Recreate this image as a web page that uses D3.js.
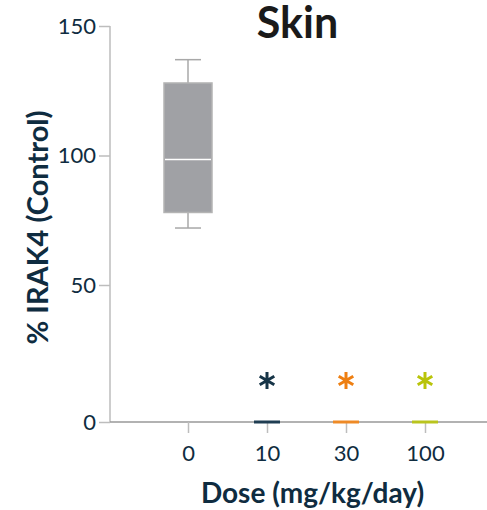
<!DOCTYPE html>
<html>
<head>
<meta charset="utf-8">
<script src="https://cdn.jsdelivr.net/npm/d3@7"></script>
<style>
  body { margin: 0; background: #fff; }
  text { font-family: Lato, "Open Sans", sans-serif; }
</style>
</head>
<body>
<div id="chart"></div>
<script>
// Données
const doses = ["0", "10", "30", "100"];
const whiskerLow = [72, 0, 0, 0];
const q1 = [78, 0, 0, 0];
const median = [98.5, 0, 0, 0];
const q3 = [128, 0, 0, 0];
const whiskerHigh = [137, 0, 0, 0];
const significant = [false, true, true, true];
const yTicks = [0, 50, 100, 150];

const boxFill = ["#a0a1a5", "#1f3d52", "#ee8a26", "#b9c41e"];
const starColor = ["#a0a1a5", "#163447", "#ee7f12", "#b9c40a"];
const ink = "#0f2c40";

const width = 487, height = 510;

const svg = d3.select("#chart").append("svg")
    .attr("width", width)
    .attr("height", height);

// Échelles
const x = d3.scalePoint().domain(doses).range([188, 425]);
const y = d3.scaleLinear().domain([0, 50, 150]).range([422, 285, 26]);

// Axe Y
svg.append("line")
    .attr("x1", 110).attr("x2", 110)
    .attr("y1", y(150)).attr("y2", y(0))
    .attr("stroke", "#bdbdbd").attr("stroke-width", 1.5);

const yAxis = svg.append("g").attr("transform", "translate(110,0)")
    .call(d3.axisLeft(y).tickValues(yTicks).tickSize(11).tickPadding(3));
yAxis.select(".domain").remove();
yAxis.selectAll(".tick line").attr("stroke", "#bdbdbd").attr("stroke-width", 1.5);
yAxis.selectAll(".tick text")
    .attr("fill", ink)
    .style("font-size", "22px")
    .style("font-family", "Lato, sans-serif");

// Axe X
svg.append("line")
    .attr("x1", 110).attr("x2", 487)
    .attr("y1", y(0)).attr("y2", y(0))
    .attr("stroke", "#999").attr("stroke-width", 1.5);

const xAxis = svg.append("g").attr("transform", `translate(0,${y(0)})`)
    .call(d3.axisBottom(x).tickSize(11).tickPadding(12));
xAxis.select(".domain").remove();
xAxis.selectAll(".tick line").attr("stroke", "#bdbdbd").attr("stroke-width", 1.5);
xAxis.selectAll(".tick text")
    .attr("fill", ink)
    .style("font-size", "22px")
    .style("font-family", "Lato, sans-serif");

// Boîtes à moustaches
const boxW = 48, flatW = 26, capW = 26;
doses.forEach((d, i) => {
    const cx = x(d);
    const g = svg.append("g");
    if (q3[i] > q1[i]) {
        g.append("line")
            .attr("x1", cx).attr("x2", cx)
            .attr("y1", y(whiskerHigh[i])).attr("y2", y(q3[i]))
            .attr("stroke", "#a8a8a8").attr("stroke-width", 1.5);
        g.append("line")
            .attr("x1", cx).attr("x2", cx)
            .attr("y1", y(q1[i])).attr("y2", y(whiskerLow[i]))
            .attr("stroke", "#a8a8a8").attr("stroke-width", 1.5);
        [whiskerHigh[i], whiskerLow[i]].forEach(v => {
            g.append("line")
                .attr("x1", cx - capW / 2).attr("x2", cx + capW / 2)
                .attr("y1", y(v)).attr("y2", y(v))
                .attr("stroke", "#a8a8a8").attr("stroke-width", 1.5);
        });
        g.append("rect")
            .attr("x", cx - boxW / 2)
            .attr("y", y(q3[i]))
            .attr("width", boxW)
            .attr("height", y(q1[i]) - y(q3[i]))
            .attr("fill", boxFill[i])
            .attr("stroke", "#b4b4b4").attr("stroke-width", 1.5);
        g.append("line")
            .attr("x1", cx - boxW / 2 + 1).attr("x2", cx + boxW / 2 - 1)
            .attr("y1", y(median[i])).attr("y2", y(median[i]))
            .attr("stroke", "#fff").attr("stroke-width", 1.5);
    } else {
        g.append("line")
            .attr("x1", cx - flatW / 2).attr("x2", cx + flatW / 2)
            .attr("y1", y(median[i])).attr("y2", y(median[i]))
            .attr("stroke", boxFill[i]).attr("stroke-width", 3);
    }
});

// Astérisques de significativité
const star = d3.symbol().type(d3.symbolAsterisk).size(200);
doses.forEach((d, i) => {
    if (!significant[i]) return;
    svg.append("path")
        .attr("d", star)
        .attr("transform", `translate(${x(d)},380.5)`)
        .attr("fill", "none")
        .attr("stroke", starColor[i])
        .attr("stroke-width", 3);
});

// Titres
svg.append("text")
    .attr("x", 297.5).attr("y", 38)
    .attr("text-anchor", "middle")
    .attr("fill", "#1a1a1a")
    .style("font-size", "43px")
    .style("font-weight", "bold")
    .text("Skin");

svg.append("text")
    .attr("x", 312.5).attr("y", 503)
    .attr("text-anchor", "middle")
    .attr("fill", ink)
    .style("font-size", "28px")
    .style("font-weight", "bold")
    .text("Dose (mg/kg/day)");

svg.append("text")
    .attr("transform", "translate(48,227.5) rotate(-90)")
    .attr("text-anchor", "middle")
    .attr("fill", ink)
    .style("font-size", "29px")
    .style("font-weight", "bold")
    .text("% IRAK4 (Control)");
</script>
</body>
</html>
